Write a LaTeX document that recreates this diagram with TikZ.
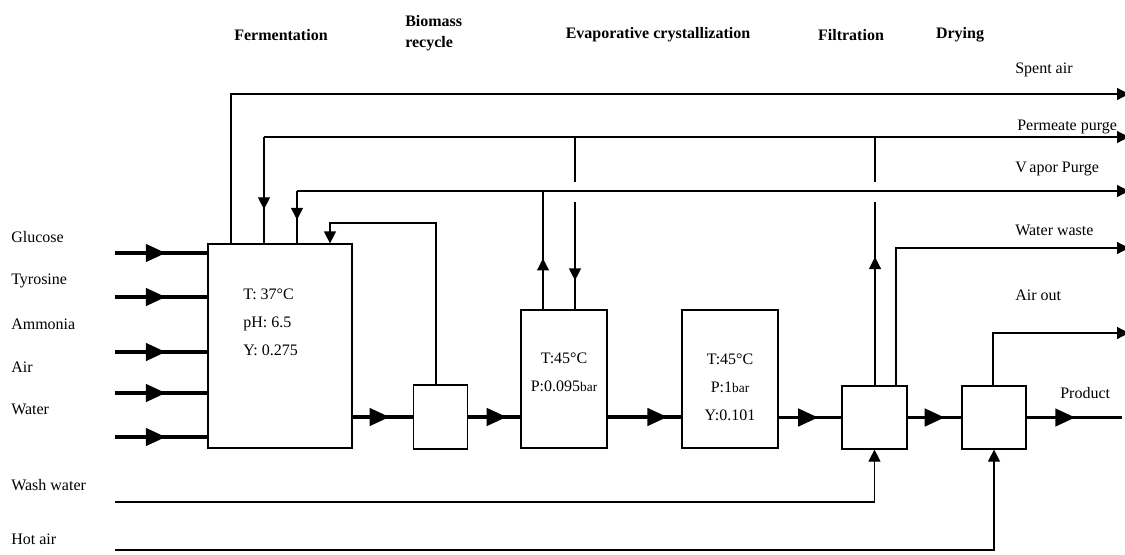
\documentclass[tikz,border=0pt]{standalone}
\usepackage{fontspec}
\setmainfont{Liberation Serif}
\usetikzlibrary{arrows.meta,decorations.markings}

\begin{document}
\begin{tikzpicture}[x=0.75pt, y=-0.75pt,
    unit/.style={draw, line width=0.9pt, inner sep=0pt},
    feed/.style={line width=2.6pt, postaction={decorate, decoration={markings,
        mark=at position #1 with {\arrow{Triangle[length=15pt,width=13pt]}}}}},
    pipe/.style={line width=0.9pt},
    pipeto/.style={pipe, -{Triangle[length=9pt,width=9pt]}},
    pipemid/.style={pipe, postaction={decorate, decoration={markings,
        mark=at position #1 with {\arrow{Triangle[length=9pt,width=9pt]}}}}},
    tag/.style={anchor=west, inner sep=0pt, font=\fontsize{12}{13}\selectfont},
    stage/.style={inner sep=0pt, align=left, font=\fontsize{12}{16}\selectfont\bfseries},
    cond/.style={inner sep=0pt, font=\fontsize{12}{21}\selectfont}]

    \useasboundingbox (0,0) rectangle (1125,554);

    % units
    \node[unit, minimum width=108pt, minimum height=153pt] (ferm) at (280,346) {};
    \node[unit, minimum width=40pt, minimum height=48pt] (bio) at (440.5,417) {};
    \node[unit, minimum width=64.5pt, minimum height=103.5pt] (evap) at (564,379) {};
    \node[unit, minimum width=72pt, minimum height=103.5pt] (cryst) at (730,379) {};
    \node[unit, minimum width=48.75pt, minimum height=47.25pt] (filt) at (874.5,417.5) {};
    \node[unit, minimum width=48pt, minimum height=47.25pt] (dry) at (994,417.5) {};

    \node[cond, anchor=west, align=left] (fermtxt) at (243,322) {T: 37°C\\pH: 6.5\\Y: 0.275};
    \node[cond, align=center] (evaptxt) at (564,372) {T:45°C\\P:0.095{\fontsize{10}{10}\selectfont bar}};
    \node[cond, align=center] (crysttxt) at (730,387) {T:45°C\\P:1{\fontsize{10}{10}\selectfont bar}\\Y:0.101};

    % stages
    \node[stage] (hferm) at (281,35) {Fermentation};
    \node[stage, anchor=west] (hbio) at (405,33) {Biomass\\recycle};
    \node[stage] (hevap) at (658,35) {Evaporative crystallization};
    \node[stage] (hfilt) at (851,35) {Filtration};
    \node[stage] (hdry) at (960,35) {Drying};

    % streams
    \node[tag] (glu) at (11,237) {Glucose};
    \node[tag] (tyr) at (11,281) {Tyrosine};
    \node[tag] (amm) at (11,324) {Ammonia};
    \node[tag] (air) at (11,367) {Air};
    \node[tag] (wat) at (11,409) {Water};
    \node[tag] (washtag) at (11,485) {Wash water};
    \node[tag] (hottag) at (11,539) {Hot air};

    \node[tag] (spenttag) at (1015,70) {Spent air};
    \node[tag] (permtag) at (1017,127) {Permeate purge};
    \node[tag] (vaptag) at (1015,169) {V\kern2pt apor Purge};
    \node[tag] (wastetag) at (1015,230) {Water waste};
    \node[tag] (airtag) at (1015,295) {Air out};
    \node[tag] (prodtag) at (1060,393) {Product};

    \coordinate (in1) at (115,253);
    \coordinate (in2) at (115,297);
    \coordinate (in3) at (115,352);
    \coordinate (in4) at (115,393);
    \coordinate (in5) at (115,437);
    \foreach \i in {1,...,5}
        \draw[feed=0.55] (in\i) -- (in\i -| ferm.west);

    \coordinate (prod) at (1122,417.5);
    \draw[feed=0.61] (ferm.east |- bio.west) -- (bio.west);
    \draw[feed=0.74] (bio.east) -- (bio.east -| evap.west);
    \draw[feed=0.81] (evap.east |- bio.east) -- (cryst.west |- bio.east);
    \draw[feed=0.63] (cryst.east |- filt.west) -- (filt.west);
    \draw[feed=0.69] (filt.east) -- (dry.west);
    \draw[feed=0.51] (dry.east) -- (prod);

    \coordinate (spent) at (1129,94);
    \coordinate (perm) at (1129,137);
    \coordinate (vap) at (1129,191);
    \coordinate (waste) at (1129,248);
    \coordinate (airout) at (1129,333);

    \coordinate (sp) at (231,94);
    \draw[pipeto] (sp |- ferm.north) -- (sp) -- (spent);

    \coordinate (pf) at (264,137);
    \draw[pipeto] (pf) -- (perm);
    \draw[pipemid=0.68] (pf) -- (pf |- ferm.north);

    \coordinate (vf) at (297,191);
    \draw[pipeto] (vf) -- (vap);
    \draw[pipemid=0.55] (vf) -- (vf |- ferm.north);

    \coordinate (br) at (330,223);
    \coordinate (bu) at (436,223);
    \draw[pipeto] (bu |- bio.north) -- (bu) -- (br) -- (br |- ferm.north);

    \coordinate (ev) at (543,191);
    \draw[pipemid=0.43] (ev |- evap.north) -- (ev);

    \coordinate (ep) at (575,137);
    \coordinate (ep1) at (575,182);
    \coordinate (ep2) at (575,202);
    \draw[pipe] (ep) -- (ep1);
    \draw[pipemid=0.73] (ep2) -- (ep2 |- evap.north);

    \coordinate (fp) at (875,137);
    \coordinate (fp1) at (875,182);
    \coordinate (fp2) at (875,202);
    \draw[pipemid=0.70] (fp2 |- filt.north) -- (fp2);
    \draw[pipe] (fp1) -- (fp);

    \coordinate (fw) at (896,248);
    \draw[pipeto] (fw |- filt.north) -- (fw) -- (waste);
    \coordinate (da) at (993,333);
    \draw[pipeto] (da |- dry.north) -- (da) -- (airout);

    \coordinate (wash) at (115,502);
    \draw[pipeto] (wash) -| (filt.south);
    \coordinate (hot) at (115,550);
    \draw[pipeto] (hot) -| (dry.south);
\end{tikzpicture}
\end{document}
